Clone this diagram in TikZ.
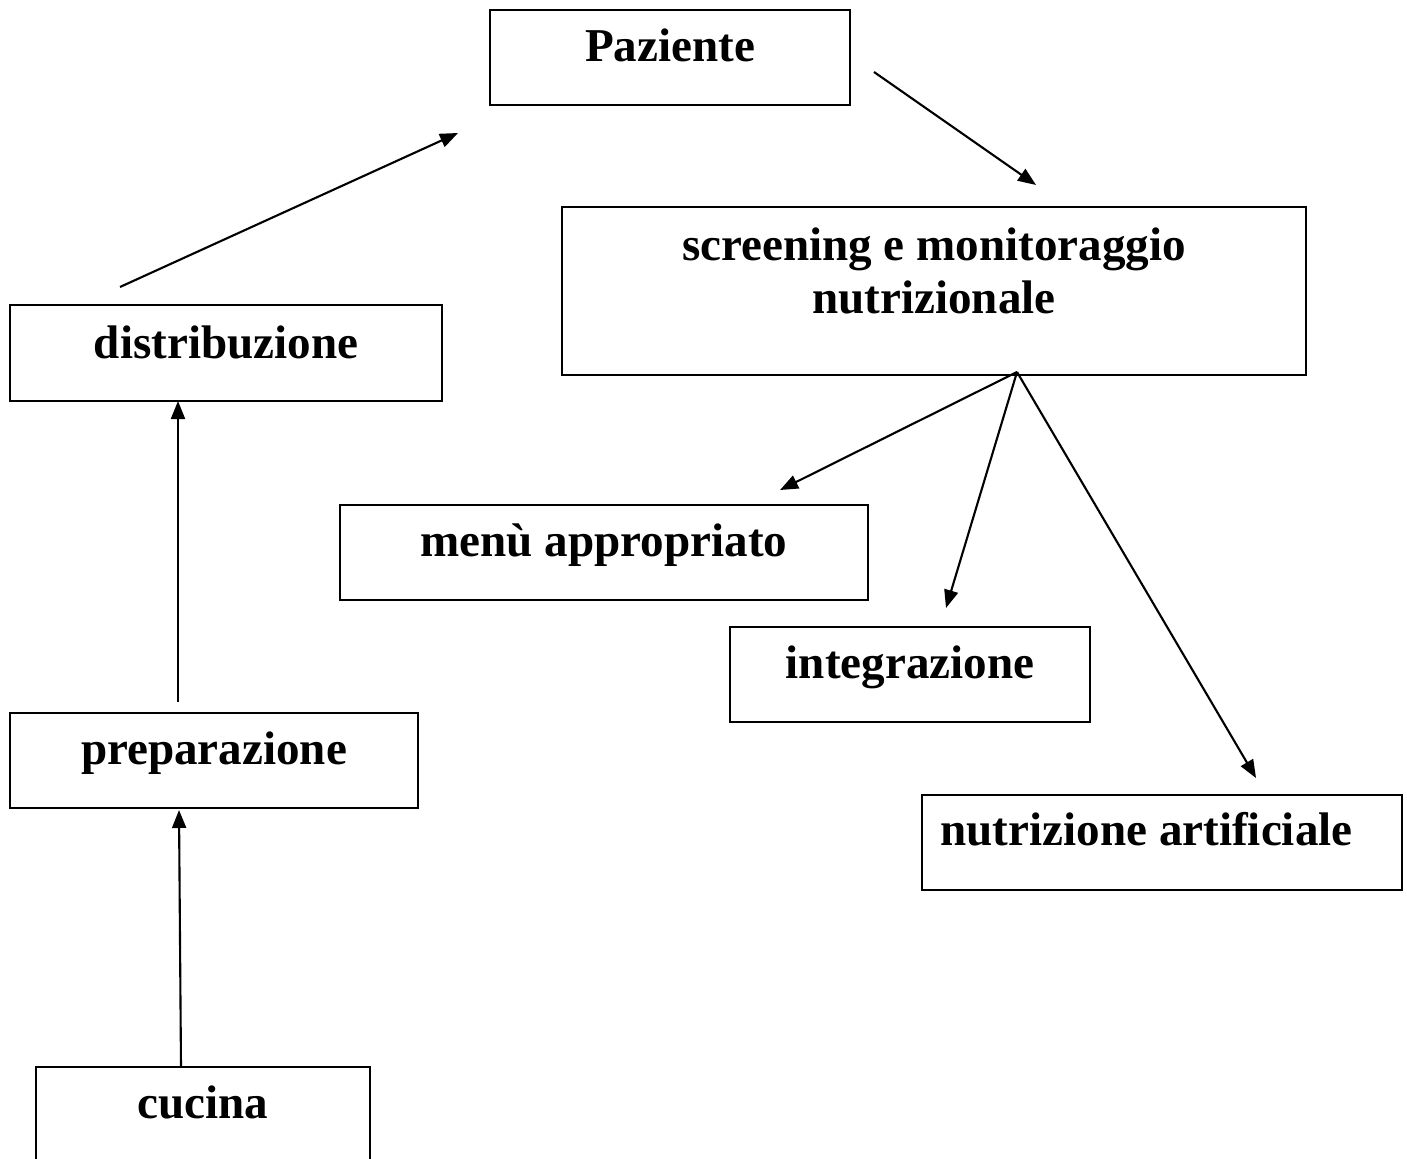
\documentclass[tikz,border=0pt]{standalone}
\usepackage{fontspec}
\setmainfont{Liberation Serif}
\usetikzlibrary{arrows.meta}
\begin{document}
\begin{tikzpicture}[
  box/.style={draw, line width=0.6pt, rectangle, inner sep=0pt},
  lbl/.style={font=\bfseries\fontsize{13.4}{16}\selectfont, inner sep=0pt, anchor=base},
  arr/.style={line width=0.6pt, -{Triangle[length=0.18cm,width=0.14cm]}}
]
\clip (0,0) rectangle (14.07,-11.58);
% boxes
\node[box, minimum width=3.60cm, minimum height=0.95cm] (paz) at (6.70,-0.575) {};
\node[box, minimum width=7.44cm, minimum height=1.68cm] (scr) at (9.34,-2.91) {};
\node[box, minimum width=4.32cm, minimum height=0.96cm] (dis) at (2.26,-3.53) {};
\node[box, minimum width=5.28cm, minimum height=0.95cm] (men) at (6.04,-5.525) {};
\node[box, minimum width=3.60cm, minimum height=0.95cm] (int) at (9.10,-6.745) {};
\node[box, minimum width=4.08cm, minimum height=0.95cm] (pre) at (2.14,-7.605) {};
\node[box, minimum width=4.80cm, minimum height=0.95cm] (nut) at (11.62,-8.425) {};
\node[box, minimum width=3.34cm, minimum height=1.10cm] (cuc) at (2.03,-11.22) {};
% texts
\node[lbl] (pazT) at (6.70,-0.62) {Paziente};
\node[lbl] (scrT1) at (9.34,-2.60) {screening e monitoraggio};
\node[lbl] (scrT2) at (9.34,-3.13) {nutrizionale};
\node[lbl] (disT) at (2.26,-3.58) {distribuzione};
\node[lbl] (menT) at (6.04,-5.56) {menù appropriato};
\node[lbl] (intT) at (9.10,-6.78) {integrazione};
\node[lbl] (preT) at (2.14,-7.64) {preparazione};
\node[lbl] (nutT) at (11.465,-8.45) {nutrizione artificiale};
\node[lbl] (cucT) at (2.03,-11.18) {cucina};
% connector ends
\coordinate (d1) at (1.20,-2.87);
\coordinate (p1) at (4.58,-1.33);
\coordinate (p2) at (8.74,-0.72);
\coordinate (s1) at (10.36,-1.85);
\coordinate (s0) at (10.17,-3.72);
\coordinate (m1) at (7.80,-4.90);
\coordinate (i1) at (9.46,-6.08);
\coordinate (n1) at (12.56,-7.78);
\coordinate (pr1) at (1.78,-7.02);
\coordinate (di1) at (1.78,-4.01);
\coordinate (cu1) at (1.81,-10.67);
\coordinate (pr2) at (1.79,-8.10);
% connectors
\draw[arr] (d1) -- (p1);
\draw[arr] (p2) -- (s1);
\draw[arr] (s0) -- (m1);
\draw[arr] (s0) -- (i1);
\draw[arr] (s0) -- (n1);
\draw[arr] (pr1) -- (di1);
\draw[arr] (cu1) -- (pr2);
\end{tikzpicture}
\end{document}
